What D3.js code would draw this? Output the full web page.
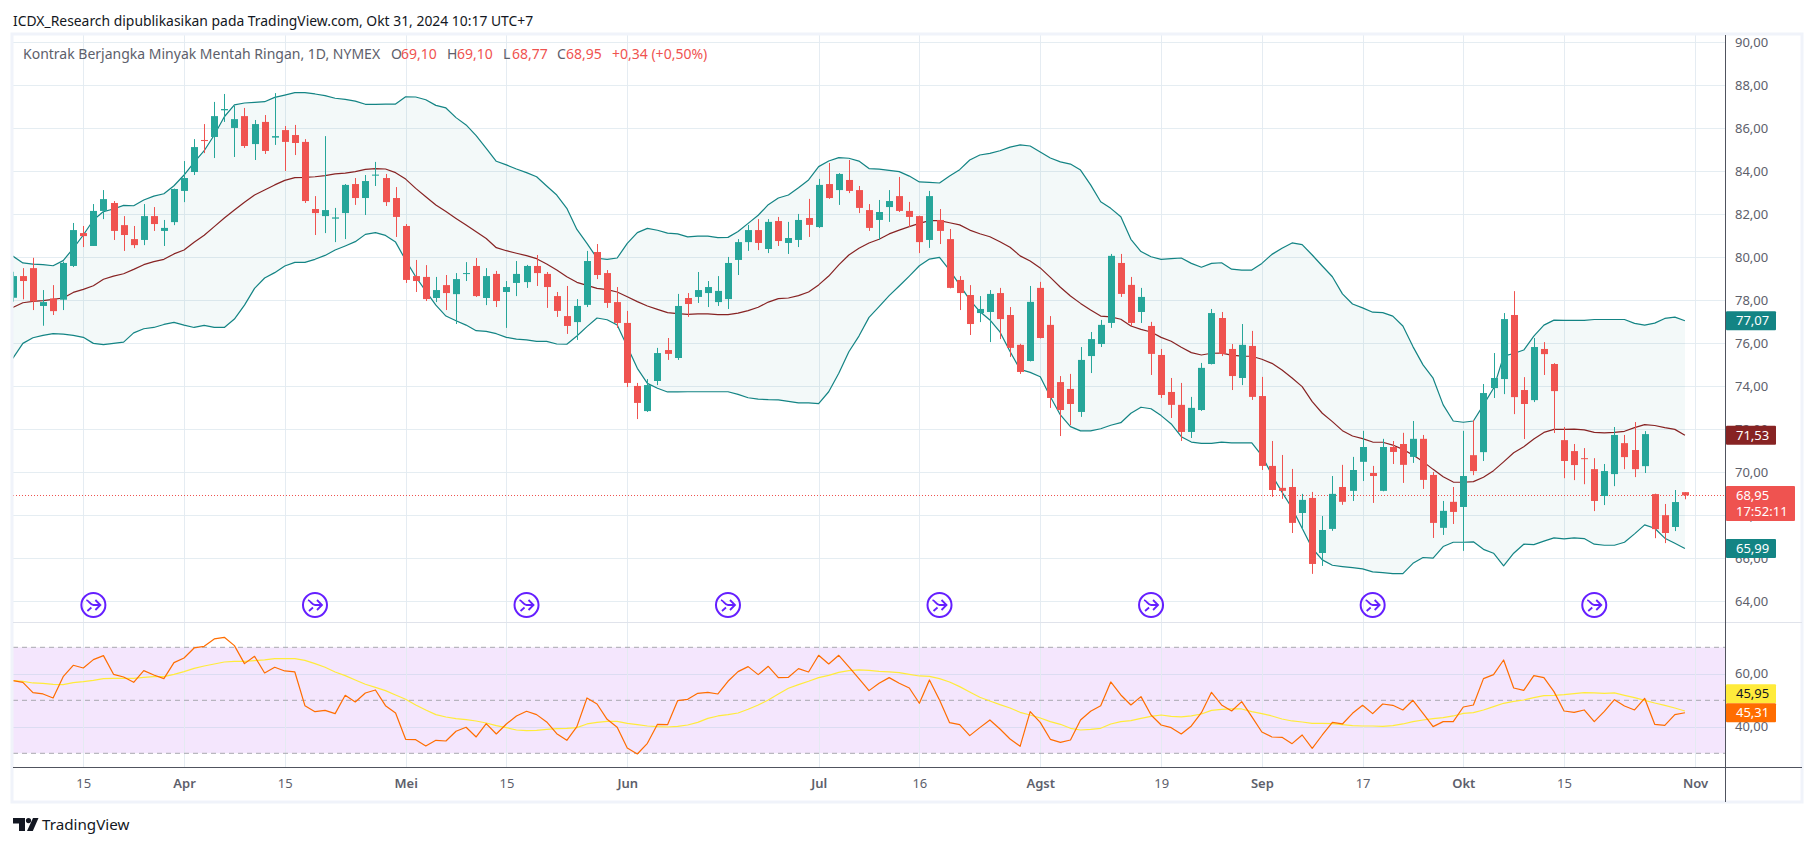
<!DOCTYPE html>
<html>
<head>
<meta charset="utf-8">
<script src="https://cdn.jsdelivr.net/npm/d3@7"></script>
<style>
  body { margin: 0; background: #fff; }
  svg { display: block; }
  text { font-family: "Noto Sans", sans-serif; }
</style>
</head>
<body>
<svg id="chart" width="1814" height="846"></svg>
<script>
var opens = [
  78.14,79.15,79.52,77.76,78.11,78.05,79.62,81.15,80.55,82.18,
  82.55,81.52,80.87,80.83,81.94,81.25,81.66,83.11,83.99,85.48,
  85.62,86.86,86.04,86.59,85.29,86.32,85.59,85.94,85.71,85.39,
  82.27,81.94,81.82,82.08,83.43,82.78,83.82,83.71,82.78,81.48,
  79.15,79.11,78.13,78.73,78.31,79.25,79.62,78.13,79.25,78.41,
  78.83,78.87,79.62,79.25,78.22,77.29,77.01,77.81,80.27,79.29,
  77.94,76.97,74.04,72.87,74.27,75.71,75.34,78.13,78.18,78.36,
  77.94,78.08,79.90,80.73,81.29,80.41,81.71,80.69,80.83,81.85,
  81.43,83.43,83.15,83.62,83.15,82.22,81.76,82.36,82.87,82.18,
  81.94,80.83,81.76,80.87,78.97,78.27,77.43,77.48,78.36,77.34,
  75.95,75.20,78.60,76.88,74.22,73.90,72.83,75.43,75.99,76.97,
  79.76,78.74,77.48,76.83,75.48,73.76,73.16,71.90,72.92,75.06,
  77.20,75.76,74.41,75.90,73.57,70.32,69.30,69.34,68.13,68.83,
  66.27,67.39,69.34,69.16,70.51,69.99,69.16,71.20,71.34,70.74,
  71.58,69.90,67.44,68.65,68.41,70.82,70.96,73.94,74.36,77.34,
  73.85,73.38,75.76,75.06,71.52,71.01,70.68,70.17,68.92,69.94,
  71.38,71.06,70.31,69.01,68.03,67.48,69.10];
var highs = [
  79.35,79.52,80.00,78.50,78.73,79.82,81.62,81.48,82.50,83.15,
  82.64,81.94,81.48,82.50,82.36,81.76,83.22,84.50,85.52,86.22,
  87.25,87.62,87.06,86.97,86.41,86.64,87.66,86.13,86.18,85.52,
  82.87,85.66,82.32,83.43,83.71,83.85,84.46,83.90,83.29,81.57,
  79.90,79.66,79.11,79.20,79.29,79.80,79.99,79.52,79.39,78.92,
  79.85,79.67,80.13,79.34,78.41,78.69,78.08,80.32,80.64,79.43,
  78.64,77.53,74.18,74.36,75.81,76.27,78.32,78.36,79.34,78.92,
  79.15,80.04,80.87,81.53,81.80,81.80,81.90,81.67,82.04,82.74,
  83.67,84.41,83.94,84.55,83.34,82.50,82.69,83.15,83.76,82.60,
  81.96,83.11,82.27,81.34,79.15,78.73,78.22,78.50,78.60,77.71,
  76.00,78.69,78.88,77.29,74.50,74.60,75.85,76.55,77.11,80.18,
  80.18,79.11,78.60,77.02,75.76,74.41,74.18,73.53,75.11,77.62,
  77.48,75.99,76.92,76.60,74.46,71.48,70.83,70.18,69.02,69.11,
  67.99,69.85,70.37,70.74,71.95,70.32,71.58,71.48,71.86,72.41,
  71.76,70.04,68.69,69.34,71.95,72.45,74.13,75.57,77.43,78.45,
  74.45,76.27,76.08,75.10,72.13,71.34,71.15,70.68,70.41,72.13,
  71.76,72.36,71.94,69.03,68.55,69.20,69.10];
var lows = [
  77.96,78.07,77.57,76.84,77.34,77.57,79.57,80.50,80.55,81.80,
  80.83,80.32,80.45,80.59,81.25,80.55,81.52,82.59,83.85,84.87,
  84.64,86.32,84.69,85.11,84.55,84.83,85.25,84.04,84.78,82.55,
  81.06,81.15,80.73,80.87,82.46,81.99,83.34,82.41,80.97,78.83,
  78.41,77.99,77.94,77.57,76.92,78.92,78.18,77.80,77.71,76.74,
  78.22,78.60,78.69,77.67,77.25,76.46,76.18,77.71,79.01,77.67,
  76.74,73.99,72.50,72.83,74.08,75.25,75.25,77.25,77.90,77.71,
  77.76,77.62,79.20,80.32,80.36,80.22,80.55,80.18,80.50,80.97,
  81.39,82.74,82.46,83.01,82.08,81.25,80.83,81.67,82.13,81.43,
  80.22,80.46,80.64,78.58,77.57,76.41,77.01,76.08,76.22,75.39,
  74.60,75.18,76.25,73.02,71.71,72.22,72.60,74.64,75.85,76.74,
  78.18,76.83,76.97,74.55,73.48,72.55,71.48,71.62,72.88,75.04,
  75.43,73.85,74.08,73.39,70.13,68.88,68.79,67.20,67.34,65.30,
  65.67,67.30,68.51,68.69,69.62,68.60,69.14,70.41,69.53,70.46,
  69.25,66.97,67.11,67.62,66.37,69.89,70.55,73.48,73.66,72.73,
  71.57,73.29,74.55,71.85,69.75,69.66,69.47,68.22,68.50,69.38,
  70.17,69.80,69.99,66.96,66.73,67.29,68.77];
var closes = [
  79.15,78.92,77.97,77.94,77.52,79.76,81.29,81.01,82.18,82.73,
  81.25,81.06,80.59,81.94,81.57,81.39,83.20,83.71,85.15,85.43,
  86.59,86.92,86.45,85.20,86.22,84.97,85.66,85.39,85.34,82.64,
  82.08,82.22,81.88,83.39,82.78,83.57,83.87,82.59,81.90,78.97,
  78.92,78.08,78.50,78.36,79.01,79.29,78.22,79.15,77.99,78.64,
  79.25,79.62,79.29,78.64,77.53,76.83,77.76,79.85,79.20,77.90,
  76.97,74.18,73.25,74.08,75.57,75.53,77.76,77.85,78.50,78.64,
  78.46,79.76,80.73,81.29,80.69,81.67,80.78,80.92,81.76,81.53,
  83.39,82.78,83.90,83.11,82.32,81.39,82.13,82.64,82.18,81.90,
  80.73,82.87,81.25,78.60,78.36,76.92,77.62,78.32,77.15,75.81,
  74.69,77.95,76.27,73.48,72.92,73.20,75.25,76.22,76.88,80.09,
  78.32,76.97,78.18,75.53,73.62,73.16,71.90,73.02,74.88,77.43,
  75.53,74.50,75.95,73.53,70.32,69.20,69.16,67.67,68.74,65.76,
  67.34,69.02,68.65,70.13,71.20,69.85,71.20,70.97,70.37,71.58,
  69.67,67.67,68.23,68.18,69.85,70.08,73.71,74.41,77.15,73.52,
  73.20,75.85,75.52,73.80,70.55,70.36,70.64,68.69,70.08,71.76,
  70.73,70.17,71.80,67.38,67.20,68.64,68.95];

// bollinger bands
var bbUpper = [
  80.08,79.76,79.71,79.68,79.63,79.87,80.44,81.06,81.76,82.15,
  82.27,82.44,82.42,82.69,82.87,82.98,83.35,83.85,84.44,84.98,
  85.71,86.56,87.11,87.20,87.23,87.26,87.46,87.57,87.68,87.68,
  87.62,87.54,87.42,87.37,87.29,87.14,87.14,87.15,87.15,87.49,
  87.48,87.35,87.09,86.97,86.52,86.18,85.68,85.09,84.49,84.32,
  84.13,83.96,83.77,83.34,82.92,82.30,81.32,80.67,79.98,79.93,
  79.99,80.67,81.17,81.37,81.28,81.15,81.11,80.97,81.01,81.01,
  80.94,80.95,81.22,81.60,81.98,82.47,82.78,82.92,83.26,83.62,
  84.24,84.50,84.66,84.63,84.50,84.15,84.12,84.07,84.01,83.80,
  83.53,83.51,83.48,83.80,84.10,84.55,84.78,84.86,84.98,85.15,
  85.25,85.20,84.92,84.64,84.46,84.36,84.08,83.39,82.61,82.30,
  81.91,80.86,80.29,80.05,79.93,79.96,79.99,79.74,79.56,79.74,
  79.77,79.47,79.43,79.43,79.74,80.16,80.44,80.69,80.61,80.13,
  79.62,79.12,78.32,77.85,77.67,77.47,77.45,77.29,76.83,75.87,
  75.02,74.40,73.16,72.41,72.35,72.41,73.16,73.93,75.43,75.55,
  75.71,76.36,76.87,77.10,77.09,77.09,77.09,77.13,77.13,77.13,
  77.13,76.95,76.87,76.96,77.18,77.24,77.07];
var bbBasis = [
  77.69,77.91,77.97,78.01,78.07,78.13,78.39,78.53,78.70,79.00,
  79.15,79.26,79.46,79.68,79.82,79.93,80.18,80.36,80.72,81.05,
  81.45,81.85,82.22,82.58,82.92,83.15,83.39,83.60,83.73,83.74,
  83.77,83.82,83.90,83.94,84.01,84.11,84.15,84.13,83.96,83.66,
  83.23,82.84,82.46,82.15,81.83,81.52,81.21,80.90,80.47,80.33,
  80.21,80.10,79.96,79.71,79.43,79.12,78.86,78.72,78.58,78.52,
  78.41,78.19,77.96,77.76,77.60,77.45,77.40,77.37,77.39,77.39,
  77.36,77.36,77.43,77.54,77.70,77.94,78.10,78.13,78.24,78.41,
  78.74,79.15,79.67,80.13,80.44,80.69,80.86,81.11,81.29,81.45,
  81.60,81.73,81.73,81.63,81.53,81.29,81.12,80.98,80.75,80.49,
  80.09,79.85,79.53,79.09,78.63,78.22,77.88,77.57,77.29,77.25,
  77.14,76.83,76.67,76.55,76.30,76.12,75.84,75.59,75.48,75.56,
  75.57,75.47,75.43,75.42,75.28,75.09,74.78,74.41,74.01,73.31,
  72.77,72.38,71.96,71.71,71.59,71.43,71.42,71.29,71.09,70.83,
  70.52,70.16,69.82,69.57,69.56,69.59,69.79,70.10,70.51,70.93,
  71.21,71.57,71.88,72.02,72.02,72.03,72.00,71.88,71.86,71.88,
  71.93,72.10,72.24,72.20,72.10,72.02,71.75];
var bbLower = [
  75.32,76.02,76.28,76.39,76.47,76.45,76.39,76.30,76.02,75.96,
  76.02,76.08,76.51,76.70,76.76,76.90,77.00,76.87,76.76,76.86,
  76.76,76.76,77.15,77.80,78.58,79.06,79.31,79.62,79.79,79.79,
  79.93,80.11,80.36,80.55,80.75,81.09,81.17,81.04,80.73,79.89,
  79.12,78.45,77.80,77.29,77.07,76.87,76.61,76.58,76.47,76.30,
  76.22,76.18,76.11,76.11,75.99,75.98,76.36,76.80,77.20,77.12,
  76.87,75.87,74.86,74.16,73.93,73.76,73.76,73.77,73.77,73.77,
  73.77,73.77,73.65,73.49,73.43,73.40,73.39,73.32,73.25,73.25,
  73.22,73.77,74.63,75.63,76.36,77.23,77.73,78.24,78.69,79.15,
  79.63,79.94,80.02,79.43,78.74,78.04,77.50,77.11,76.55,75.64,
  74.81,74.67,74.47,73.54,72.69,72.15,71.95,71.95,72.05,72.21,
  72.33,72.77,73.05,72.98,72.66,72.27,71.68,71.43,71.37,71.37,
  71.43,71.39,71.39,71.39,70.80,69.90,69.10,68.35,67.42,66.49,
  65.95,65.70,65.64,65.59,65.53,65.39,65.36,65.31,65.31,65.79,
  66.06,66.03,66.57,66.77,66.77,66.79,66.44,66.26,65.67,66.26,
  66.68,66.66,66.82,66.97,66.93,66.97,66.94,66.68,66.63,66.63,
  66.77,67.16,67.58,67.42,66.96,66.72,66.48];

var rsiValues = [
  57.42,56.79,52.89,52.39,50.88,58.93,63.21,62.20,65.35,66.86,
  59.81,58.80,56.79,61.19,59.56,58.17,64.21,65.97,69.75,70.38,
  73.15,73.77,70.63,63.84,66.60,60.31,62.45,61.07,60.69,47.98,
  45.72,46.22,44.97,51.88,49.37,52.77,53.90,47.98,45.22,35.28,
  35.15,32.76,34.90,34.65,38.30,39.81,36.16,41.19,37.29,41.07,
  44.09,45.85,44.59,41.82,37.42,34.90,40.06,50.88,48.61,42.83,
  39.81,32.01,29.74,33.77,40.94,40.81,49.87,50.38,52.64,53.02,
  52.39,57.17,60.82,62.70,59.68,62.83,58.55,58.68,61.95,60.69,
  66.98,63.71,66.98,62.58,58.17,53.65,56.41,58.55,56.41,54.65,
  48.87,57.67,50.12,41.57,40.81,36.66,39.68,42.57,39.18,35.41,
  32.64,45.72,41.69,35.28,34.15,35.03,42.57,45.85,47.98,56.92,
  52.01,48.24,51.38,44.46,40.69,39.68,37.29,40.31,45.34,53.02,
  48.24,45.97,49.49,43.83,38.05,36.16,36.03,33.64,36.91,31.88,
  36.91,41.69,41.07,45.09,48.11,44.97,48.61,48.11,46.35,50.00,
  45.09,40.06,41.95,41.95,47.48,48.24,58.17,59.68,65.22,54.65,
  53.77,59.31,58.55,53.27,45.97,45.47,46.35,41.95,45.85,50.25,
  47.86,46.35,50.75,40.94,40.56,44.59,45.31];
var rsiMa = [
  57.42,57.17,56.54,56.41,56.04,55.91,56.67,57.04,57.55,58.17,
  58.30,58.30,58.30,58.68,58.93,58.93,59.81,60.82,62.07,62.95,
  63.71,64.46,64.72,64.72,64.97,65.22,65.72,65.72,65.72,65.09,
  63.84,62.45,60.69,59.31,57.67,56.04,54.90,53.65,52.01,50.38,
  48.24,46.35,44.59,43.71,43.08,42.70,42.20,41.44,40.44,39.68,
  38.80,38.55,38.68,39.05,39.30,39.43,39.68,41.07,41.69,42.07,
  42.07,41.32,40.81,40.31,40.06,39.93,40.18,40.69,41.69,43.20,
  44.09,44.59,45.22,46.60,48.24,50.12,52.39,54.53,55.91,57.17,
  58.55,59.43,60.56,61.19,61.45,61.32,60.94,60.69,60.44,59.81,
  59.18,59.06,58.17,56.92,55.16,53.14,51.13,49.75,48.36,47.10,
  45.47,44.46,43.33,41.95,40.94,39.43,38.80,39.05,39.43,41.07,
  41.95,42.32,43.20,43.96,44.46,43.96,43.71,44.09,44.84,46.22,
  46.60,46.73,46.73,45.72,44.97,44.09,42.95,42.20,41.82,41.32,
  41.32,41.19,40.81,40.44,40.31,40.31,40.18,40.44,41.07,41.95,
  42.57,43.08,43.46,44.09,45.09,45.34,46.35,47.61,48.87,49.62,
  50.12,51.00,51.76,51.88,52.14,52.51,52.89,52.77,52.64,52.77,
  51.88,51.00,50.00,48.99,48.11,47.10,45.95];

var priceTicks = [90,88,86,84,82,80,78,76,74,72,70,68,66,64];
var rsiTicks = [60,40];
var rsiLevels = [70,50,30];
var timeTickBars = [7,17,27,39,49,61,80,90,102,114,124,134,144,154,167];
var timeTickLabels = ["15","Apr","15","Mei","15","Jun","Jul","16","Agst","19","Sep","17","Okt","15","Nov"];
var signalBars = [8,30,51,71,92,113,135,157];

var UP = "#26a69a", DOWN = "#ef5350";
var left = 13, axisX = 1725, rightEdge = 1802;
var priceTop = 35, paneSplit = 622, paneBottom = 767, frameBottom = 802;

var svg = d3.select("#chart");
var decimalComma = d3.formatLocale({decimal: ",", thousands: ".", grouping: [3], currency: ["", ""]}).format(".2f");

var x = d3.scaleLinear().domain([0, 167]).range([12.8, 1695]);
var priceY = d3.scaleLinear().domain([64, 90]).range([601.8, 42.8]);
var rsiY = d3.scaleLinear().domain([30, 70]).range([753.3, 647.3]);
var allBars = d3.range(opens.length);

svg.append("defs").append("clipPath").attr("id", "plot")
  .append("rect").attr("x", left).attr("y", priceTop)
    .attr("width", axisX - left).attr("height", paneBottom - priceTop);

var plot = svg.append("g").attr("clip-path", "url(#plot)");

// rsi background goes under the grid
plot.append("rect")
  .attr("x", left).attr("width", axisX - left)
  .attr("y", rsiY(70)).attr("height", rsiY(30) - rsiY(70))
  .attr("fill", "#f4e6fd");

// grid
plot.selectAll(".hgrid").data(priceTicks).enter().append("line")
  .attr("x1", left).attr("x2", axisX)
  .attr("y1", function(d) { return Math.round(priceY(d)) - 0.5; })
  .attr("y2", function(d) { return Math.round(priceY(d)) - 0.5; })
  .attr("stroke", "#e5edf2");
plot.selectAll(".rgrid").data(rsiTicks).enter().append("line")
  .attr("x1", left).attr("x2", axisX)
  .attr("y1", function(d) { return Math.round(rsiY(d)) + 0.5; })
  .attr("y2", function(d) { return Math.round(rsiY(d)) + 0.5; })
  .attr("stroke", "#dcdcf2");
plot.selectAll(".vgrid").data(timeTickBars).enter().append("line")
  .attr("x1", function(d) { return Math.round(x(d)) + 0.5; })
  .attr("x2", function(d) { return Math.round(x(d)) + 0.5; })
  .attr("y1", priceTop).attr("y2", paneBottom)
  .attr("stroke", "#e2eaf1")
  .attr("stroke-opacity", 0.9);

// rsi levels
plot.selectAll(".level").data(rsiLevels).enter().append("line")
  .attr("x1", left).attr("x2", axisX)
  .attr("y1", function(d) { return rsiY(d); })
  .attr("y2", function(d) { return rsiY(d); })
  .attr("stroke", "#a8a8b0")
  .attr("stroke-dasharray", "5,4");

// bollinger fill and lines
var band = d3.area()
  .x(function(i) { return x(i); })
  .y0(function(i) { return priceY(bbLower[i]); })
  .y1(function(i) { return priceY(bbUpper[i]); });
plot.append("path").datum(allBars)
  .attr("d", band)
  .attr("fill", "#138484")
  .attr("fill-opacity", 0.05);

function seriesLine(values, scale) {
  return d3.line()
    .x(function(i) { return x(i); })
    .y(function(i) { return scale(values[i]); });
}
function drawLine(values, scale, colour, width) {
  plot.append("path").datum(allBars)
    .attr("d", seriesLine(values, scale))
    .attr("fill", "none")
    .attr("stroke", colour)
    .attr("stroke-width", width)
    .attr("stroke-linejoin", "round");
}
drawLine(bbUpper, priceY, "#138484", 1.2);
drawLine(bbLower, priceY, "#138484", 1.2);
drawLine(bbBasis, priceY, "#872323", 1.2);

// last price line
plot.append("line")
  .attr("x1", left).attr("x2", axisX)
  .attr("y1", Math.round(priceY(closes[closes.length - 1])) + 0.5)
  .attr("y2", Math.round(priceY(closes[closes.length - 1])) + 0.5)
  .attr("stroke", DOWN)
  .attr("stroke-dasharray", "1,2");

// candles
var candle = plot.selectAll(".candle").data(allBars).enter().append("g")
  .attr("class", "candle")
  .attr("fill", function(i) { return closes[i] >= opens[i] ? UP : DOWN; });
candle.append("rect")
  .attr("x", function(i) { return Math.round(x(i)); })
  .attr("width", 1)
  .attr("y", function(i) { return priceY(highs[i]); })
  .attr("height", function(i) { return priceY(lows[i]) - priceY(highs[i]); });
candle.append("rect")
  .attr("x", function(i) { return Math.round(x(i)) - 3; })
  .attr("width", 7)
  .attr("y", function(i) { return priceY(Math.max(opens[i], closes[i])); })
  .attr("height", function(i) { return Math.max(1, Math.abs(priceY(opens[i]) - priceY(closes[i]))); });

// rsi lines
drawLine(rsiMa, rsiY, "#ffeb3b", 1.2);
drawLine(rsiValues, rsiY, "#ff6d00", 1.2);

// signal icons under the candles
var icon = plot.selectAll(".signal").data(signalBars).enter().append("g")
  .attr("class", "signal")
  .attr("transform", function(d) { return "translate(" + x(d) + ",605)"; })
  .attr("fill", "none")
  .attr("stroke", "#651fff");
icon.append("circle").attr("r", 12).attr("stroke-width", 2);
icon.append("path")
  .attr("d", "M-7,-5 C-4,-4 -3,0 0,0 L7,0 M2,-5 L7,0 L2,5 M-6,6 L-2,2.5")
  .attr("stroke-width", 1.8);

// frame and pane edges
svg.append("rect")
  .attr("x", 12).attr("y", 34)
  .attr("width", rightEdge - 12).attr("height", frameBottom - 34)
  .attr("fill", "none").attr("stroke", "#f0f3fa").attr("stroke-width", 3);
svg.append("line")
  .attr("x1", left).attr("x2", rightEdge)
  .attr("y1", paneSplit + 0.5).attr("y2", paneSplit + 0.5)
  .attr("stroke", "#e0e3eb");
svg.append("line")
  .attr("x1", left).attr("x2", rightEdge)
  .attr("y1", paneBottom + 0.5).attr("y2", paneBottom + 0.5)
  .attr("stroke", "#50535e");
svg.append("line")
  .attr("x1", axisX + 0.5).attr("x2", axisX + 0.5)
  .attr("y1", priceTop).attr("y2", frameBottom)
  .attr("stroke", "#50535e");

// axes
function styleAxis(g) {
  g.select(".domain").remove();
  g.selectAll("text")
    .attr("font-size", 13)
    .attr("font-family", "'Noto Sans', sans-serif")
    .attr("fill", "#5d606b");
}
svg.append("g")
  .attr("transform", "translate(" + axisX + ",0)")
  .call(d3.axisRight(priceY).tickValues(priceTicks).tickSize(0).tickPadding(10).tickFormat(decimalComma))
  .call(styleAxis);
svg.append("g")
  .attr("transform", "translate(" + axisX + ",0)")
  .call(d3.axisRight(rsiY).tickValues(rsiTicks).tickSize(0).tickPadding(10).tickFormat(decimalComma))
  .call(styleAxis);

var timeAxis = svg.append("g")
  .attr("transform", "translate(0," + (paneBottom + 8) + ")")
  .call(d3.axisBottom(x).tickValues(timeTickBars).tickSize(0).tickPadding(4)
    .tickFormat(function(d, i) { return timeTickLabels[i]; }))
  .call(styleAxis);
timeAxis.selectAll("text")
  .attr("font-weight", function(d, i) { return isNaN(+timeTickLabels[i]) ? 600 : 400; });

// last value labels on the price axis
function valueLabel(y, w, h, colour, lines, textColour) {
  svg.append("rect")
    .attr("x", axisX + 1).attr("y", y - 9.5)
    .attr("width", w).attr("height", h)
    .attr("rx", 1)
    .attr("fill", colour);
  lines.forEach(function(t, k) {
    svg.append("text")
      .attr("x", axisX + 11).attr("y", y + 4.5 + k * 16)
      .attr("font-size", 13)
      .attr("fill", textColour)
      .text(t);
  });
}
var lastBar = opens.length - 1;
valueLabel(priceY(bbUpper[lastBar]), 50, 19, "#138484", ["77,07"], "#fff");
valueLabel(priceY(bbBasis[lastBar]), 50, 19, "#872323", ["71,53"], "#fff");
valueLabel(priceY(bbLower[lastBar]), 50, 19, "#138484", ["65,99"], "#fff");
valueLabel(priceY(closes[lastBar]), 69, 35, DOWN, ["68,95", "17:52:11"], "#fff");
valueLabel(rsiY(rsiValues[lastBar]) - 19, 50, 19, "#ffeb3b", ["45,95"], "#131722");
valueLabel(rsiY(rsiValues[lastBar]), 50, 19, "#ff6d00", ["45,31"], "#fff");

// header
svg.append("text")
  .attr("x", 13).attr("y", 26)
  .attr("font-size", 13.9).attr("fill", "#131722")
  .text("ICDX_Research dipublikasikan pada TradingView.com, Okt 31, 2024 10:17 UTC+7");

// legend, each piece placed at its own x
var legendParts = [
  {x: 23, text: "Kontrak Berjangka Minyak Mentah Ringan, 1D, NYMEX", colour: "#5d606b"},
  {x: 391, text: "O", colour: "#5d606b"},
  {x: 401, text: "69,10", colour: DOWN},
  {x: 447, text: "H", colour: "#5d606b"},
  {x: 457, text: "69,10", colour: DOWN},
  {x: 503, text: "L", colour: "#5d606b"},
  {x: 512, text: "68,77", colour: DOWN},
  {x: 557, text: "C", colour: "#5d606b"},
  {x: 566, text: "68,95", colour: DOWN},
  {x: 612, text: "+0,34 (+0,50%)", colour: DOWN}
];
svg.selectAll(".legend").data(legendParts).enter().append("text")
  .attr("x", function(d) { return d.x; })
  .attr("y", 59)
  .attr("font-size", 14)
  .attr("fill", function(d) { return d.colour; })
  .text(function(d) { return d.text; });

// tradingview mark
var logo = svg.append("g").attr("fill", "#131722");
logo.append("path").attr("d", "M13,818 H25 V831 H19 V823.5 H13 Z");
logo.append("circle").attr("cx", 28.5).attr("cy", 820.6).attr("r", 2.6);
logo.append("path").attr("d", "M33,818 H38.5 L32.8,831 H27 Z");
svg.append("text")
  .attr("x", 42).attr("y", 830)
  .attr("font-size", 15.2).attr("fill", "#131722")
  .text("TradingView");
</script>
</body>
</html>
